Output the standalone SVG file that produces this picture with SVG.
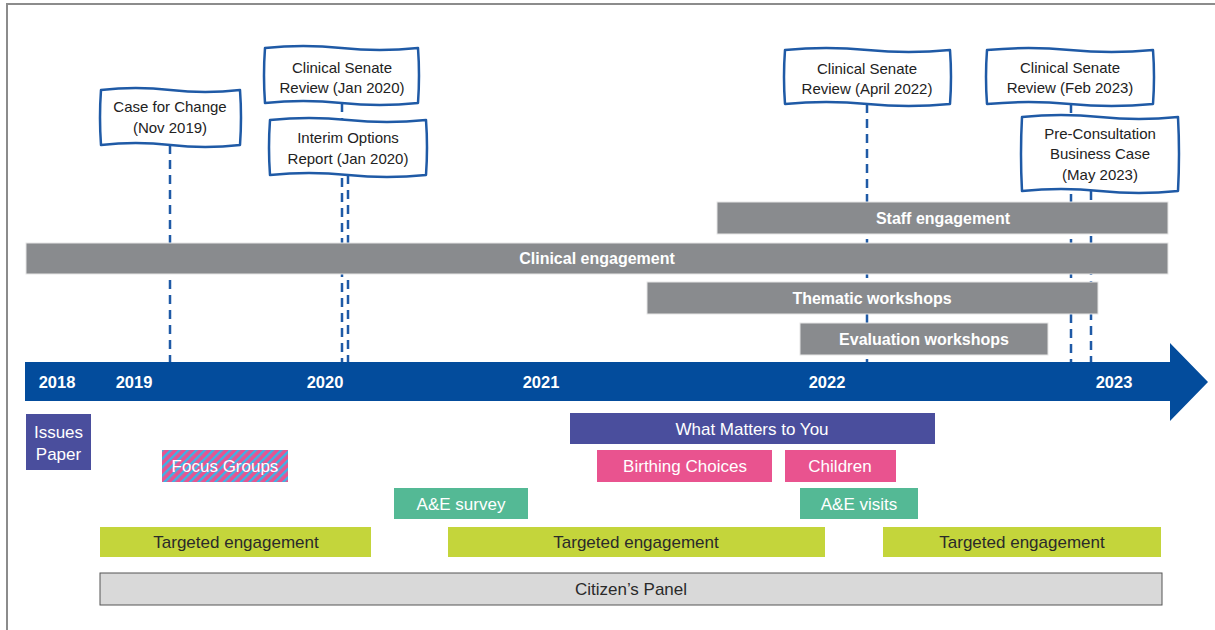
<svg xmlns="http://www.w3.org/2000/svg" width="1215" height="630" viewBox="0 0 1215 630">
<style>
text{font-family:"Liberation Sans",Arial,sans-serif;text-anchor:middle;dominant-baseline:central}
.frame{fill:none;stroke:#8c8c8c;stroke-width:2}
.call{fill:#fff;stroke:#1f5aa6;stroke-width:2.5;stroke-linejoin:round}
.ct{font-size:15px;fill:#222}
.dash{stroke:#1f5aa6;stroke-width:2.5;stroke-dasharray:9 6;fill:none}
.gbar{fill:#898b8e;stroke:#e6e6e6;stroke-width:1}
.gt{font-size:16px;font-weight:bold;fill:#fff}
.yr{font-size:16.5px;font-weight:bold;fill:#fff}
.bt{font-size:17px;fill:#fff}
.dt{font-size:17px;fill:#2a2a2a}
.purple{fill:#4a4e9d}
.pink{fill:#e9538f}
.green{fill:#54b995}
.lime{fill:#c4d53b}
</style>
<defs>
<pattern id="stripes" patternUnits="userSpaceOnUse" width="6" height="6" patternTransform="rotate(45)">
<rect width="6" height="6" fill="#e9538f"/>
<rect width="2.4" height="6" fill="#3bb4e6"/>
</pattern>
</defs>
<path class="frame" d="M7,630 V4 H1215"/>

<g id="connectors">
<line class="dash" x1="170" y1="145" x2="170" y2="362"/>
<line class="dash" x1="342" y1="103" x2="342" y2="362"/>
<line class="dash" x1="348" y1="175" x2="348" y2="362"/>
<line class="dash" x1="867" y1="104" x2="867" y2="362"/>
<line class="dash" x1="1071" y1="104" x2="1071" y2="362"/>
<line class="dash" x1="1091" y1="191" x2="1091" y2="362"/>
</g>

<g id="timeline">
<path d="M25,362 H1170 V343 L1208,382 L1170,421 V401 H25 Z" fill="#034c9c"/>
<text class="yr" x="57" y="382">2018</text>
<text class="yr" x="134" y="382">2019</text>
<text class="yr" x="325" y="382">2020</text>
<text class="yr" x="541" y="382">2021</text>
<text class="yr" x="827" y="382">2022</text>
<text class="yr" x="1114" y="382">2023</text>
</g>

<g id="staff">
<rect class="gbar" x="717" y="202" width="451" height="32"/>
<text class="gt" x="943" y="218">Staff engagement</text>
</g>
<g id="clinical">
<rect class="gbar" x="26" y="243" width="1142" height="31"/>
<text class="gt" x="597" y="258.5">Clinical engagement</text>
</g>
<g id="thematic">
<rect class="gbar" x="647" y="282" width="451" height="32"/>
<text class="gt" x="872" y="298">Thematic workshops</text>
</g>
<g id="evaluation">
<rect class="gbar" x="800" y="323" width="248" height="32"/>
<text class="gt" x="924" y="339">Evaluation workshops</text>
</g>

<g id="case-for-change">
<path class="call" d="M101,90 Q135.75,86 170.5,90 T240,90 Q242,117.5 240,145 Q205.25,149 170.5,145 T101,145 Q99,117.5 101,90Z"/>
<text class="ct" x="170" y="106">Case for Change</text>
<text class="ct" x="170" y="127">(Nov 2019)</text>
</g>
<g id="senate-2020">
<path class="call" d="M265,48 Q303.25,44 341.5,48 T418,48 Q420,75.5 418,103 Q379.75,107 341.5,103 T265,103 Q263,75.5 265,48Z"/>
<text class="ct" x="342" y="67">Clinical Senate</text>
<text class="ct" x="342" y="87">Review (Jan 2020)</text>
</g>
<g id="interim-options">
<path class="call" d="M270,120 Q309,116 348,120 T426,120 Q428,147.5 426,175 Q387,179 348,175 T270,175 Q268,147.5 270,120Z"/>
<text class="ct" x="348" y="137">Interim Options</text>
<text class="ct" x="348" y="158">Report (Jan 2020)</text>
</g>
<g id="senate-2022">
<path class="call" d="M785,50 Q826.25,46 867.5,50 T950,50 Q952,77 950,104 Q908.75,108 867.5,104 T785,104 Q783,77 785,50Z"/>
<text class="ct" x="867" y="68">Clinical Senate</text>
<text class="ct" x="867" y="88">Review (April 2022)</text>
</g>
<g id="senate-2023">
<path class="call" d="M987,50 Q1028.5,46 1070,50 T1153,50 Q1155,77 1153,104 Q1111.5,108 1070,104 T987,104 Q985,77 987,50Z"/>
<text class="ct" x="1070" y="67">Clinical Senate</text>
<text class="ct" x="1070" y="87">Review (Feb 2023)</text>
</g>
<g id="pcbc">
<path class="call" d="M1022,117 Q1061,113 1100,117 T1178,117 Q1180,154 1178,191 Q1139,195 1100,191 T1022,191 Q1020,154 1022,117Z"/>
<text class="ct" x="1100" y="133">Pre-Consultation</text>
<text class="ct" x="1100" y="153">Business Case</text>
<text class="ct" x="1100" y="174">(May 2023)</text>
</g>

<g id="issues-paper">
<rect class="purple" x="26" y="414" width="65" height="56"/>
<text class="bt" x="58.5" y="432">Issues</text>
<text class="bt" x="58.5" y="454">Paper</text>
</g>
<g id="focus-groups">
<rect x="162" y="450" width="126" height="32" fill="url(#stripes)"/>
<text class="bt" x="225" y="466">Focus Groups</text>
</g>
<g id="what-matters">
<rect class="purple" x="570" y="413" width="365" height="31"/>
<text class="bt" x="752" y="429">What Matters to You</text>
</g>
<g id="birthing-choices">
<rect class="pink" x="597" y="450" width="175" height="32"/>
<text class="bt" x="685" y="466">Birthing Choices</text>
</g>
<g id="children">
<rect class="pink" x="785" y="450" width="111" height="32"/>
<text class="bt" x="840" y="466">Children</text>
</g>
<g id="ae-survey">
<rect class="green" x="394" y="488" width="134" height="31"/>
<text class="bt" x="461" y="504">A&amp;E survey</text>
</g>
<g id="ae-visits">
<rect class="green" x="800" y="488" width="118" height="31"/>
<text class="bt" x="859" y="504">A&amp;E visits</text>
</g>
<g id="targeted-1">
<rect class="lime" x="100" y="527" width="271" height="30"/>
<text class="dt" x="236" y="542">Targeted engagement</text>
</g>
<g id="targeted-2">
<rect class="lime" x="448" y="527" width="377" height="30"/>
<text class="dt" x="636" y="542">Targeted engagement</text>
</g>
<g id="targeted-3">
<rect class="lime" x="883" y="527" width="278" height="30"/>
<text class="dt" x="1022" y="542">Targeted engagement</text>
</g>
<g id="citizens-panel">
<rect x="100" y="573" width="1062" height="32" fill="#d9d9d9" stroke="#555" stroke-width="1"/>
<text class="dt" x="631" y="589">Citizen’s Panel</text>
</g>
</svg>
